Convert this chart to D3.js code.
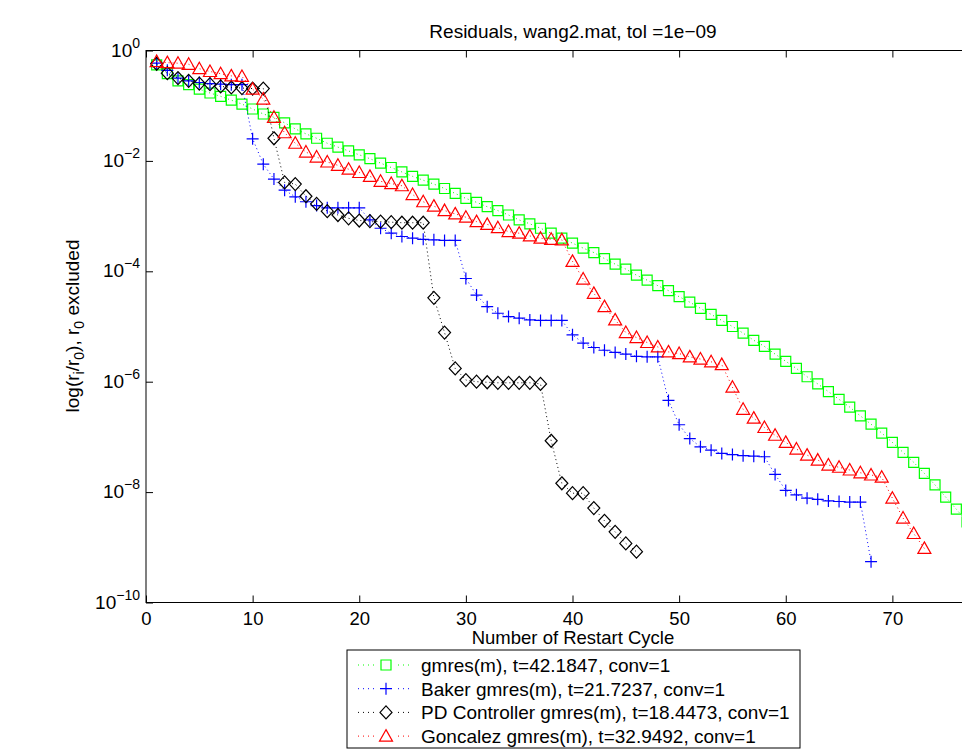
<!DOCTYPE html>
<html><head><meta charset="utf-8">
<script src="https://cdn.jsdelivr.net/npm/d3@7"></script>
<style>
body{margin:0;background:#fff}
svg{display:block}
text{font-family:"Liberation Sans",Arial,Helvetica,sans-serif;fill:#000}
</style>
</head><body>
<svg id="chart" width="962" height="756"></svg>
<script>
// ---- data (log10 of relative residual, restart cycles start at 1) ----
const titleText = "Residuals, wang2.mat, tol =1e\u221209";
const xLabelText = "Number of Restart Cycle";
const xTicks = [0, 10, 20, 30, 40, 50, 60, 70];
const yTicks = [1, 1e-2, 1e-4, 1e-6, 1e-8, 1e-10];
const yTickExponents = ["0", "\u22122", "\u22124", "\u22126", "\u22128", "\u221210"];

const seriesNames = [
  "gmres(m), t=42.1847, conv=1",
  "Baker gmres(m), t=21.7237, conv=1",
  "PD Controller gmres(m), t=18.4473, conv=1",
  "Goncalez gmres(m), t=32.9492, conv=1"
];
const seriesColors = ["#00ff00", "#0000ff", "#000000", "#ff0000"];
const seriesMarkers = ["square", "plus", "diamond", "triangle"];

const gmresLog10 = [-0.26,-0.42,-0.55,-0.62,-0.70,-0.77,-0.83,-0.90,-0.97,-1.06,
 -1.15,-1.21,-1.31,-1.42,-1.51,-1.59,-1.68,-1.75,-1.82,-1.89,
 -1.96,-2.04,-2.12,-2.20,-2.28,-2.35,-2.42,-2.50,-2.59,-2.68,
 -2.75,-2.83,-2.90,-2.98,-3.07,-3.14,-3.22,-3.31,-3.40,-3.49,
 -3.58,-3.66,-3.77,-3.87,-3.96,-4.07,-4.16,-4.26,-4.35,-4.46,
 -4.56,-4.67,-4.78,-4.89,-5.00,-5.12,-5.25,-5.36,-5.50,-5.63,
 -5.76,-5.91,-6.04,-6.18,-6.32,-6.46,-6.62,-6.77,-6.93,-7.10,
 -7.28,-7.46,-7.66,-7.87,-8.09,-8.31,-8.54];

const bakerLog10 = [-0.23,-0.36,-0.50,-0.55,-0.58,-0.60,-0.61,-0.62,-0.62,-1.60,
 -2.06,-2.33,-2.53,-2.65,-2.74,-2.81,-2.85,-2.85,-2.85,-2.85,
 -3.07,-3.22,-3.31,-3.37,-3.40,-3.42,-3.43,-3.44,-3.44,-4.13,
 -4.43,-4.64,-4.76,-4.82,-4.85,-4.88,-4.89,-4.89,-4.89,-5.15,
 -5.30,-5.38,-5.43,-5.47,-5.50,-5.54,-5.55,-5.55,-6.34,-6.78,
 -7.03,-7.18,-7.24,-7.30,-7.32,-7.34,-7.35,-7.36,-7.68,-7.97,
 -8.05,-8.11,-8.13,-8.16,-8.17,-8.18,-8.18,-9.26];

const pdLog10 = [-0.24,-0.41,-0.50,-0.55,-0.60,-0.61,-0.65,-0.67,-0.68,-0.69,
 -0.69,-1.59,-2.39,-2.42,-2.64,-2.78,-2.91,-2.98,-3.04,-3.08,
 -3.09,-3.10,-3.11,-3.12,-3.12,-3.12,-4.48,-5.11,-5.76,-5.97,
 -6.00,-6.01,-6.02,-6.02,-6.02,-6.02,-6.04,-7.07,-7.84,-8.02,
 -8.02,-8.29,-8.52,-8.72,-8.93,-9.08];

const goncalezLog10 = [-0.20,-0.22,-0.23,-0.25,-0.33,-0.38,-0.42,-0.46,-0.47,-0.70,
 -0.88,-1.21,-1.49,-1.68,-1.84,-1.93,-2.02,-2.08,-2.15,-2.21,
 -2.28,-2.37,-2.41,-2.45,-2.61,-2.74,-2.82,-2.90,-2.96,-3.02,
 -3.10,-3.15,-3.21,-3.28,-3.31,-3.36,-3.40,-3.42,-3.43,-3.82,
 -4.14,-4.40,-4.64,-4.88,-5.11,-5.20,-5.29,-5.37,-5.46,-5.49,
 -5.55,-5.59,-5.64,-5.69,-6.10,-6.50,-6.66,-6.83,-6.97,-7.10,
 -7.22,-7.33,-7.42,-7.51,-7.55,-7.60,-7.65,-7.69,-7.73,-8.11,
 -8.47,-8.75,-9.02];

const seriesLog10 = [gmresLog10, bakerLog10, pdLog10, goncalezLog10];

// ---- layout ----
const L = 146, R = 999, T = 50.5, B = 602.5;
const svg = d3.select("#chart");
const x = d3.scaleLinear().domain([0, 80]).range([L, R]);
const y = d3.scaleLog().domain([1e-10, 1]).range([B, T]);

svg.append("defs").append("clipPath").attr("id", "plotclip")
  .append("rect").attr("x", L).attr("y", T).attr("width", R - L).attr("height", B - T);

// marker paths
function markerPath(type) {
  switch (type) {
    case "square": return "M-5,-5L5,-5L5,5L-5,5Z";
    case "plus": return "M-6,0L6,0M0,-6L0,6";
    case "diamond": return "M0,-6.5L6,0L0,6.5L-6,0Z";
    case "triangle": return "M0,-6.5L6.5,5L-6.5,5Z";
  }
}

// axes
const ax = svg.append("g").attr("class", "axes");
const bottomAxis = d3.axisBottom(x).tickValues(xTicks).tickSize(-7).tickPadding(9).tickFormat(d3.format("d"));
const gB = ax.append("g").attr("transform", `translate(0,${B})`).call(bottomAxis);
gB.select(".domain").remove();
gB.selectAll("text").attr("font-size", 18.5).attr("font-family", '"Liberation Sans",Arial,sans-serif').attr("dy", "0.71em");
gB.selectAll("line").attr("stroke", "#000");

const topAxis = d3.axisTop(x).tickValues(xTicks).tickSize(-7).tickFormat("");
const gT = ax.append("g").attr("transform", `translate(0,${T})`).call(topAxis);
gT.select(".domain").remove();
gT.selectAll("line").attr("stroke", "#000");

const leftAxis = d3.axisLeft(y).tickValues(yTicks).tickSize(-7).tickFormat("");
const gL = ax.append("g").attr("transform", `translate(${L},0)`).call(leftAxis);
gL.select(".domain").remove();
gL.selectAll("line").attr("stroke", "#000");

// y tick labels with superscripts
const yl = ax.append("g");
yTicks.forEach((v, i) => {
  const t = yl.append("text").attr("x", 140).attr("y", y(v) + 6)
    .attr("text-anchor", "end").attr("font-size", 19);
  t.append("tspan").text("10");
  t.append("tspan").attr("dy", -9).attr("font-size", 14).text(yTickExponents[i]);
});

// box
svg.append("rect").attr("x", L).attr("y", T).attr("width", R - L).attr("height", B - T)
  .attr("fill", "none").attr("stroke", "#000").attr("stroke-width", 1);

// series
const plot = svg.append("g").attr("clip-path", "url(#plotclip)");
const line = d3.line().x(d => x(d[0])).y(d => y(d[1]));
seriesLog10.forEach((arr, s) => {
  const pts = arr.map((e, i) => [i + 1, Math.pow(10, e)]);
  const g = plot.append("g");
  g.append("path").datum(pts).attr("d", line).attr("fill", "none")
    .attr("stroke", seriesColors[s]).attr("stroke-width", 1).attr("stroke-dasharray", "1,3");
  g.selectAll("path.m").data(pts).join("path").attr("class", "m")
    .attr("transform", d => `translate(${x(d[0])},${y(d[1])})`)
    .attr("d", markerPath(seriesMarkers[s]))
    .attr("fill", "none").attr("stroke", seriesColors[s]).attr("stroke-width", 1.2);
});

// title and labels
svg.append("text").attr("x", 573).attr("y", 38).attr("text-anchor", "middle")
  .attr("font-size", 19).text(titleText);
svg.append("text").attr("x", 573).attr("y", 644).attr("text-anchor", "middle")
  .attr("font-size", 18.5).text(xLabelText);

const ylab = svg.append("text").attr("transform", "translate(79,326) rotate(-90)")
  .attr("text-anchor", "middle").attr("font-size", 19);
ylab.append("tspan").text("log(r");
ylab.append("tspan").attr("dy", 5).attr("font-size", 14).text("i");
ylab.append("tspan").attr("dy", -5).text("/r");
ylab.append("tspan").attr("dy", 5).attr("font-size", 14).text("0");
ylab.append("tspan").attr("dy", -5).text("), r");
ylab.append("tspan").attr("dy", 5).attr("font-size", 14).text("0");
ylab.append("tspan").attr("dy", -5).text(" excluded");

// legend
const lg = svg.append("g");
lg.append("rect").attr("x", 347).attr("y", 650).attr("width", 453).attr("height", 98)
  .attr("fill", "#fff").attr("stroke", "#000").attr("stroke-width", 1);
seriesNames.forEach((name, s) => {
  const cy = 665 + s * 23.7;
  lg.append("line").attr("x1", 358).attr("x2", 412).attr("y1", cy).attr("y2", cy)
    .attr("stroke", seriesColors[s]).attr("stroke-dasharray", "1,4").attr("stroke-width", 1);
  lg.append("rect").attr("x", 376).attr("y", cy - 6).attr("width", 20).attr("height", 12).attr("fill", "#fff");
  lg.append("path").attr("transform", `translate(386,${cy})`).attr("d", markerPath(seriesMarkers[s]))
    .attr("fill", "none").attr("stroke", seriesColors[s]).attr("stroke-width", 1.2);
  lg.append("text").attr("x", 421).attr("y", cy + 7).attr("font-size", 19).text(name);
});
</script>
</body></html>
